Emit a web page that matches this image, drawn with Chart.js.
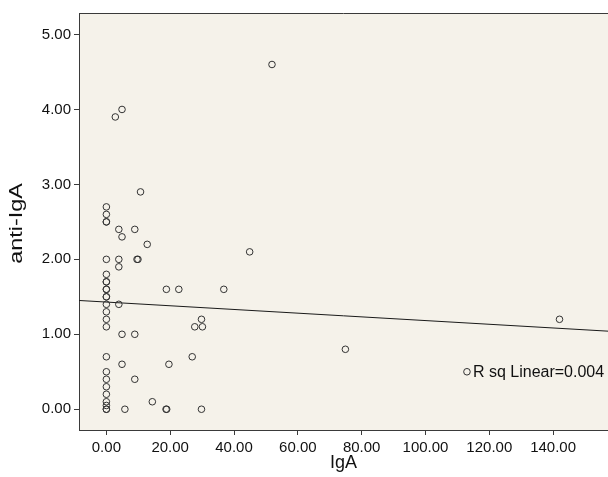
<!DOCTYPE html>
<html>
<head>
<meta charset="utf-8">
<script src="https://cdn.jsdelivr.net/npm/chart.js@4/dist/chart.umd.min.js"></script>
<style>
    html, body { margin: 0; padding: 0; background: #ffffff; }
    #chart { display: block; }
</style>
</head>
<body>
<canvas id="chart" width="608" height="477"></canvas>
<script>
// IgA values (x) and anti-IgA values (y)
const igA = [
    0, 0, 0, 0, 0, 0, 0, 0, 0, 0, 0, 0, 0, 0, 0, 0,
    0, 0, 0, 0, 0, 0, 0, 0, 0,
    3.9, 8.9, 4.9, 12.8, 44.9, 3.9, 3.9, 9.6, 9.9, 3.9,
    18.8, 22.7, 36.8, 29.8, 27.7, 30.1, 4.9, 8.9, 26.9, 4.9,
    19.6, 8.9, 5.8, 14.4, 18.7, 18.9, 29.8, 2.8, 4.9, 10.7,
    51.9, 74.9, 142, 113
];
const antiIgA = [
    2.7, 2.6, 2.5, 2.5, 2.0, 1.8, 1.7, 1.7, 1.6, 1.6, 1.5, 1.5, 1.4, 1.3, 1.2, 1.1,
    0.7, 0.5, 0.4, 0.3, 0.2, 0.1, 0.05, 0.0, 0.0,
    2.4, 2.4, 2.3, 2.2, 2.1, 2.0, 1.9, 2.0, 2.0, 1.4,
    1.6, 1.6, 1.6, 1.2, 1.1, 1.1, 1.0, 1.0, 0.7, 0.6,
    0.6, 0.4, 0.0, 0.1, 0.0, 0.0, 0.0, 3.9, 4.0, 2.9,
    4.6, 0.8, 1.2, 0.5
];

// linear fit line as drawn (SPSS)
const fitIntercept = 1.43;
const fitSlope = -0.00247;
const fitLabel = "R sq Linear=0.004";
const yTitle = "anti-IgA";

const xTicks = [0, 20, 40, 60, 80, 100, 120, 140];
const yTicks = [0, 1, 2, 3, 4, 5];
const xMin = -8.58, xMax = 157.2;
const yMin = -0.277, yMax = 5.287;

const frameColor = "#3a3a3a";
const plotBg = "#f5f2ea";
const fontFamily = "'Liberation Sans', Arial, Helvetica, sans-serif";

function buildPoints() {
    var pts = [];
    for (let i = 0; i < igA.length; i++) {
        pts.push({ x: igA[i], y: antiIgA[i] });
    }
    return pts;
}

const plotFrame = {
    id: "plotFrame",
    // the plot runs off the right edge in the original, so stretch the area to the canvas edge
    afterLayout(chart) {
        const a = chart.chartArea;
        const sx = chart.scales.x;
        a.right = chart.width;
        a.width = a.right - a.left;
        sx.right = chart.width;
        sx.width = sx.right - sx.left;
        sx.configure();
    },
    beforeDraw(chart) {
        const { ctx, chartArea: a } = chart;
        ctx.save();
        ctx.fillStyle = plotBg;
        ctx.fillRect(a.left, a.top, a.right - a.left, a.bottom - a.top);
        ctx.restore();
    },
    afterDraw(chart) {
        const { ctx, chartArea: a } = chart;
        ctx.save();
        ctx.strokeStyle = frameColor;
        ctx.lineWidth = 1;
        ctx.beginPath();
        ctx.moveTo(a.left, a.top + 0.5);
        ctx.lineTo(a.right, a.top + 0.5);
        ctx.stroke();

        // y title, a bit stretched along its length like the original export
        ctx.fillStyle = "#111";
        ctx.font = "18px " + fontFamily;
        ctx.textAlign = "center";
        ctx.textBaseline = "middle";
        ctx.translate(17.5, (a.top + a.bottom) / 2 + 2);
        ctx.rotate(-Math.PI / 2);
        ctx.scale(1.3, 1);
        ctx.fillText(yTitle, 0, 0);
        ctx.restore();
    },
};

// text beside the last point, like the SPSS fit label
const fitText = {
    id: "fitText",
    afterDatasetsDraw(chart) {
        const { ctx, scales } = chart;
        const i = igA.length - 1;
        const px = scales.x.getPixelForValue(igA[i]);
        const py = scales.y.getPixelForValue(antiIgA[i]);
        ctx.save();
        ctx.fillStyle = "#111";
        ctx.font = "16px " + fontFamily;
        ctx.textAlign = "left";
        ctx.textBaseline = "middle";
        ctx.fillText(fitLabel, px + 6, py + 1);
        ctx.restore();
    },
};

const cfg = {
    type: "scatter",
    data: {
        datasets: [
            {
                label: "points",
                data: buildPoints(),
                pointStyle: "circle",
                pointRadius: 3.3,
                pointBorderWidth: 1,
                pointBorderColor: "#333333",
                pointBackgroundColor: "rgba(0,0,0,0)",
            },
            {
                type: "line",
                label: "fit",
                data: [
                    { x: xMin, y: fitIntercept + fitSlope * xMin },
                    { x: xMax, y: fitIntercept + fitSlope * xMax },
                ],
                borderColor: "#1a1a1a",
                borderWidth: 1,
                pointRadius: 0,
                fill: false,
            },
        ],
    },
    options: {
        responsive: false,
        animation: false,
        layout: { padding: { top: 13, right: 0, bottom: 0, left: 0 } },
        plugins: {
            legend: { display: false },
            tooltip: { enabled: false },
        },
        scales: {
            x: {
                type: "linear",
                min: xMin,
                max: xMax,
                afterBuildTicks: (scale) => {
                    scale.ticks = xTicks.map((v) => ({ value: v }));
                },
                afterFit: (scale) => {
                    scale.height = 47;
                },
                grid: {
                    drawOnChartArea: false,
                    drawTicks: true,
                    tickLength: 5,
                    color: frameColor,
                },
                border: { display: true, color: frameColor, width: 1 },
                ticks: {
                    color: "#111",
                    font: { family: fontFamily, size: 15 },
                    padding: 4,
                    maxRotation: 0,
                    callback: (v) => Number(v).toFixed(2),
                },
                title: {
                    display: true,
                    text: "IgA",
                    color: "#111",
                    font: { family: fontFamily, size: 18 },
                    padding: { top: 0, bottom: 3 },
                },
            },
            y: {
                type: "linear",
                min: yMin,
                max: yMax,
                afterBuildTicks: (scale) => {
                    scale.ticks = yTicks.map((v) => ({ value: v }));
                },
                afterFit: (scale) => {
                    scale.width = 79;
                    scale.paddingTop = 0;
                    scale.paddingBottom = 0;
                },
                grid: {
                    drawOnChartArea: false,
                    drawTicks: true,
                    tickLength: 5,
                    color: frameColor,
                },
                border: { display: true, color: frameColor, width: 1 },
                ticks: {
                    color: "#111",
                    font: { family: fontFamily, size: 15 },
                    padding: 3,
                    callback: (v) => Number(v).toFixed(2),
                },
                title: { display: false },
            },
        },
    },
    plugins: [plotFrame, fitText],
};

const chart = new Chart(document.getElementById("chart"), cfg);
</script>
</body>
</html>
